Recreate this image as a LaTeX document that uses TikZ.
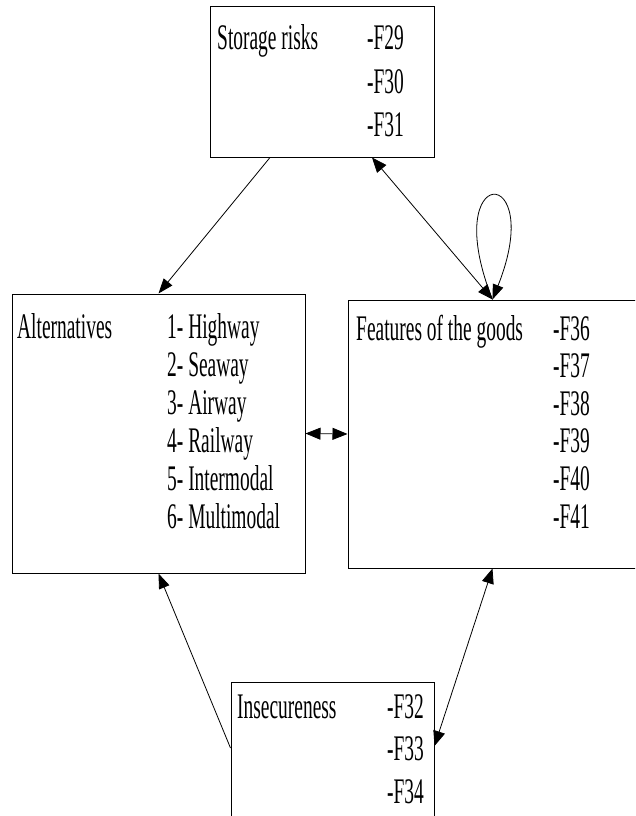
\documentclass[tikz,border=0pt]{standalone}
\usepackage{fontspec}
\setmainfont{Liberation Serif}[FakeStretch=0.54]
\usetikzlibrary{arrows.meta,positioning}

\tikzset{
    box/.style={draw,line width=1pt,rectangle,inner sep=0pt},
    lbl/.style={anchor=base west,inner sep=0pt,font=\fontsize{36}{40}\selectfont},
    con/.style={line width=0.8pt,-{Triangle[length=15pt,width=11pt]}},
    biCon/.style={line width=0.8pt,{Triangle[length=15pt,width=12pt]}-{Triangle[length=15pt,width=12pt]}}
}

\begin{document}
\begin{tikzpicture}[x=1pt,y=-1pt]
        \clip (0,0) rectangle (635,816);
        \fill[white] (0,0) rectangle (635,816);

        % boxes
        \node[box,minimum width=224pt,minimum height=150pt] (stor) at (322,82) {};
        \node[box,minimum width=293pt,minimum height=279pt] (alt) at (158.5,433.5) {};
        \node[box,minimum width=297pt,minimum height=268pt] (feat) at (496.5,434) {};
        \node[box,minimum width=203pt,minimum height=140pt] (ins) at (332.5,752) {};

        % storage risks
        \node[lbl] (storT) at (217,50) {Storage risks};
        \foreach \f [count=\i from 0] in {29,30,31} {
            \node[lbl] (storF\i) at (367,50+\i*43) {-F\f};
        }

        % alternatives
        \node[lbl] (altT) at (17,338) {Alternatives};
        \foreach \a [count=\i] in {Highway,Seaway,Airway,Railway,Intermodal,Multimodal} {
            \node[lbl] (alt\i) at (167,300+\i*38) {\i- \a};
        }

        % features of the goods
        \node[lbl] (featT) at (356,340) {Features of the goods};
        \foreach \f [count=\i from 0] in {36,37,38,39,40,41} {
            \node[lbl] (featF\i) at (553,340+\i*37.6) {-F\f};
        }

        % insecureness
        \node[lbl] (insT) at (237,718) {Insecureness};
        \foreach \f [count=\i from 0] in {32,33,34} {
            \node[lbl] (insF\i) at (387,718+\i*42.5) {-F\f};
        }

        % links
        \draw[con] ([xshift=-52pt]stor.south) -- (alt.north);
        \draw[biCon] ([xshift=50pt]stor.south) -- ([xshift=-4pt]feat.north);
        \draw[con] ([xshift=-4pt]feat.north) .. controls +(-55,-138) and +(55,-138) .. ([xshift=-4pt]feat.north);
        \draw[biCon] (alt.east) -- (feat.west);
        \draw[con] ([yshift=4pt]ins.west) -- (alt.south);
        \draw[biCon] ([xshift=-4pt]feat.south) -- ([yshift=6pt]ins.east);

    \end{tikzpicture}
\end{document}
